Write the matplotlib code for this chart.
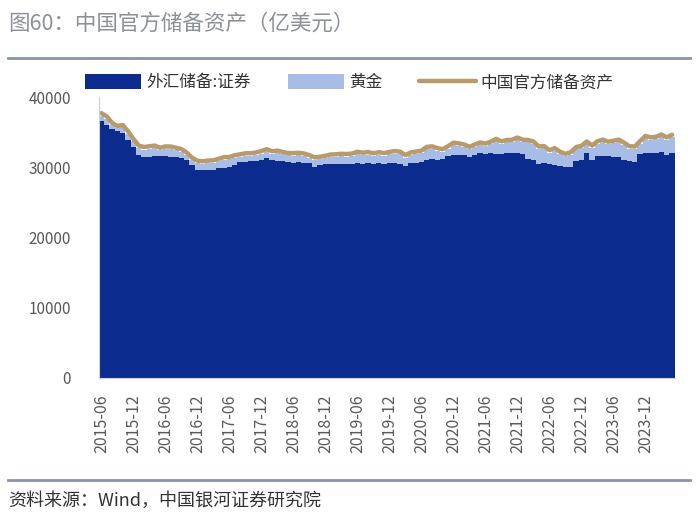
import numpy as np
import matplotlib
matplotlib.use("Agg")
from matplotlib import pyplot as plt
from matplotlib.lines import Line2D

plt.rcParams['font.family'] = ['Noto Sans CJK SC', 'DejaVu Sans']

# monthly, 2015-06 .. 2024-05 (亿美元)
months = [f"{y}-{m:02d}" for y in range(2015, 2025) for m in range(1, 13)]
months = months[months.index("2015-06"):months.index("2024-05") + 1]

securities = [
    36620, 36000, 35400, 35100, 34850, 33950, 32850,
    31750, 31500, 31500, 31650, 31550, 31600, 31500, 31500, 31270, 31030, 30320, 29650,
    29600, 29650, 29620, 29900, 29950, 30100, 30300, 30700, 30800, 30850, 30950, 31050,
    31300, 31100, 30900, 30900, 30800, 30650, 30700, 30650, 30600, 30080, 30300, 30400,
    30450, 30500, 30500, 30450, 30500, 30600, 30500, 30550, 30400, 30600, 30500, 30550,
    30600, 30500, 30180, 30550, 30650, 30700, 31100, 31200, 31000, 31150, 31600, 31750,
    31700, 31750, 31500, 31800, 32000, 31900, 32000, 31950, 31850, 32000, 32050, 32100,
    31900, 31200, 31000, 30500, 30600, 30400, 30300, 30200, 30080, 30100, 30900, 31050,
    32050, 31100, 31600, 31550, 31600, 31400, 31500, 31100, 30900, 30800, 31900, 32050,
    32050, 32000, 32150, 31700, 32050,
]
gold = [
    740, 910, 580, 440, 830, 820, 860,
    990, 1030, 1150, 1100, 880, 1020, 1100, 930, 970, 730, 690, 930,
    910, 950, 1020, 960, 1150, 1010, 1070, 800, 840, 800, 810, 910,
    920, 830, 1120, 940, 880, 1020, 1010, 960, 780, 980, 850, 890,
    1020, 1000, 1080, 1080, 1110, 1270, 1230, 1270, 1240, 1200, 1170, 1280,
    1360, 1380, 1210, 1220, 1240, 1330, 1450, 1430, 1380, 1080, 1070, 1400,
    1350, 1160, 1060, 1090, 1180, 1130, 1290, 1740, 1490, 1530, 1520, 1780,
    1670, 2340, 2320, 2110, 2080, 1690, 2090, 1650, 1480, 1690, 1640, 1650,
    1270, 1650, 1760, 2040, 1690, 2030, 2090, 2050, 1750, 1810, 1480, 2060,
    1850, 1990, 2170, 2220, 2220,
]
total = [
    37711, 37256, 36326, 35885, 36030, 35124, 34056,
    33094, 32884, 32995, 33095, 32776, 32968, 32953, 32776, 32590, 32106, 31356, 30933,
    30855, 30952, 30991, 31209, 31454, 31463, 31716, 31851, 31993, 32003, 32110, 32314,
    32568, 32283, 32373, 32185, 32029, 32017, 32060, 31964, 31729, 31408, 31495, 31640,
    31823, 31846, 31926, 31884, 31957, 32215, 32075, 32170, 31993, 32145, 32019, 32183,
    32309, 32225, 31743, 32123, 32236, 32377, 32904, 32978, 32729, 32575, 33015, 33497,
    33403, 33258, 32911, 33237, 33533, 33375, 33643, 34040, 33692, 33883, 33924, 34233,
    33921, 33892, 33671, 32957, 33026, 32439, 32737, 32197, 31914, 32138, 32885, 33049,
    33673, 33096, 33709, 33943, 33641, 33780, 33944, 33501, 32997, 32956, 33730, 34460,
    34251, 34341, 34667, 34271, 34621,
]

DARK = '#0c2b8e'
LIGHT = '#a8bde6'
TAN = '#b99a6a'
GREY = '#595959'

fig = plt.figure(figsize=(7, 5.19), dpi=100)
ax = fig.add_axes([0.141, 0.2717, 0.823, 0.5413])

x = np.arange(len(months))
b1 = ax.bar(x, securities, width=1.0, color=DARK, linewidth=0, label='外汇储备:证券')
b2 = ax.bar(x, gold, width=1.0, bottom=securities, color=LIGHT, linewidth=0, label='黄金')
l1, = ax.plot(x, total, color=TAN, linewidth=3.2, solid_capstyle='round', label='中国官方储备资产')

ax.set_xlim(-0.5, len(months) - 0.5)
ax.set_ylim(0, 40000)
ax.set_yticks([0, 10000, 20000, 30000, 40000])
ax.tick_params(axis='y', labelsize=11, colors=GREY, length=0, pad=20)
ticks = [i for i, m in enumerate(months) if m[5:] in ('06', '12') and m <= '2023-12']
ax.set_xticks(ticks)
ax.set_xticklabels([months[i] for i in ticks], rotation=90, fontsize=11.5, color=GREY)
ax.tick_params(axis='x', length=0, pad=12)
for s in ('top', 'right'):
    ax.spines[s].set_visible(False)
for s in ('left', 'bottom'):
    ax.spines[s].set_color('#d0d0d0')

leg = ax.legend(handles=[b1, b2, l1], loc='lower center', bbox_to_anchor=(0.435, 0.985), ncol=3,
                frameon=False, fontsize=12, handlelength=3.4, handleheight=1.0,
                columnspacing=2.2, handletextpad=0.3, borderaxespad=0.2)
for t in leg.get_texts():
    t.set_color('#333333')

fig.text(0.012, 0.955, '图60：中国官方储备资产（亿美元）', fontsize=15.5, color='#8c9099',
         va='center', ha='left', fontweight='light')
fig.add_artist(Line2D([0.012, 0.985], [0.888, 0.888], transform=fig.transFigure,
                      color='#8a94a6', linewidth=2))
fig.add_artist(Line2D([0.012, 0.985], [0.075, 0.075], transform=fig.transFigure,
                      color='#8a94a6', linewidth=2))
fig.text(0.012, 0.036, '资料来源：Wind，中国银河证券研究院', fontsize=13, color='#333333',
         va='center', ha='left')

fig.savefig('out.png', dpi=100)
